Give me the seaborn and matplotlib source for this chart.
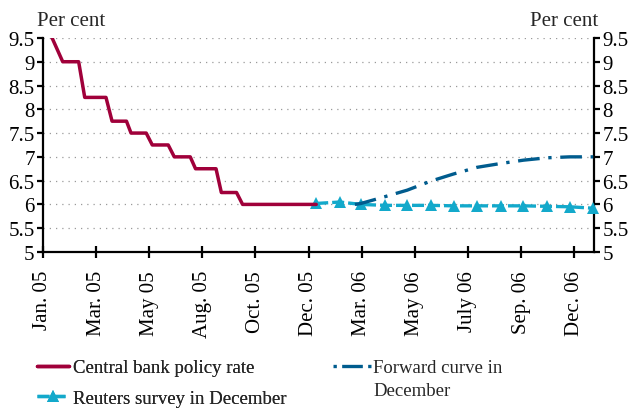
import matplotlib
matplotlib.use("Agg")
import matplotlib.pyplot as plt
from matplotlib.legend_handler import HandlerLine2D
import pandas as pd
import seaborn as sns

# ---- data ----
policy_dates = ["2005-01-17", "2005-01-31", "2005-02-21", "2005-03-01", "2005-03-29",
                "2005-04-06", "2005-04-25", "2005-05-01", "2005-05-21", "2005-05-29",
                "2005-06-19", "2005-06-27", "2005-07-18", "2005-07-25", "2005-08-21",
                "2005-08-28", "2005-09-17", "2005-09-25", "2005-12-31"]
policy_rate = [9.5, 9.0, 9.0, 8.25, 8.25, 7.75, 7.75, 7.5, 7.5, 7.25,
               7.25, 7.0, 7.0, 6.75, 6.75, 6.25, 6.25, 6.0, 6.0]

survey_dates = ["2005-12-31", "2006-01-31", "2006-02-28", "2006-03-31", "2006-04-30",
                "2006-05-31", "2006-06-30", "2006-07-31", "2006-08-31", "2006-09-30",
                "2006-10-31", "2006-11-30", "2006-12-31"]
survey_rate = [6.02, 6.05, 6.00, 5.98, 5.98, 5.98, 5.97, 5.97, 5.97, 5.97, 5.96, 5.95, 5.92]

forward_dates = ["2006-02-20", "2006-02-28", "2006-03-31", "2006-04-30", "2006-05-31",
                 "2006-06-30", "2006-07-31", "2006-08-31", "2006-09-30", "2006-10-31",
                 "2006-11-30", "2006-12-31"]
forward_rate = [6.00, 6.02, 6.16, 6.30, 6.49, 6.64, 6.78, 6.86, 6.93, 6.98, 7.00, 7.00]

x_tick_dates = ["2005-01-05", "2005-03-16", "2005-05-25", "2005-08-03", "2005-10-12",
                "2005-12-21", "2006-03-01", "2006-05-10", "2006-07-19", "2006-09-27",
                "2006-12-06"]
x_tick_labels = ["Jan. 05", "Mar. 05", "May 05", "Aug. 05", "Oct. 05", "Dec. 05",
                 "Mar. 06", "May 06", "July 06", "Sep. 06", "Dec. 06"]
y_ticks = [5, 5.5, 6, 6.5, 7, 7.5, 8, 8.5, 9, 9.5]
y_tick_labels = ["5", "5.5", "6", "6.5", "7", "7.5", "8", "8.5", "9", "9.5"]

series_labels = ["Central bank policy rate", "Reuters survey in December",
                 "Forward curve in\nDecember"]

# ---- style ----
sns.set_style("ticks")
plt.rcParams["font.family"] = ["Liberation Serif", "DejaVu Serif"]

RED = "#A0003A"
CYAN = "#13A9CB"
BLUE = "#005C8E"

fig = plt.figure(figsize=(6.35, 4.10), dpi=100)
ax = fig.add_axes([0.0677, 0.383, 0.8677, 0.522])

df_policy = pd.DataFrame({"date": pd.to_datetime(policy_dates), "rate": policy_rate})
df_survey = pd.DataFrame({"date": pd.to_datetime(survey_dates), "rate": survey_rate})
df_forward = pd.DataFrame({"date": pd.to_datetime(forward_dates), "rate": forward_rate})

sns.lineplot(data=df_policy, x="date", y="rate", ax=ax, color=RED, linewidth=2.5,
             label=series_labels[0], legend=False, zorder=4)
sns.lineplot(data=df_survey, x="date", y="rate", ax=ax, color=CYAN, linewidth=2.4,
             linestyle=(0, (3.6, 1.2)), marker="^", markersize=8.5, markeredgewidth=0,
             label=series_labels[1], legend=False, zorder=3, clip_on=False)
sns.lineplot(data=df_forward, x="date", y="rate", ax=ax, color=BLUE, linewidth=2.4,
             linestyle=(0, (6.5, 2.6, 1, 2.6)),
             label=series_labels[2], legend=False, zorder=5)

ax.set_xlim(pd.Timestamp("2005-01-05"), pd.Timestamp("2007-01-01"))
ax.set_ylim(5, 9.5)
ax.set_xticks(pd.to_datetime(x_tick_dates))
ax.set_xticklabels(x_tick_labels, rotation=90, fontsize=15)
ax.set_yticks(y_ticks)
ax.set_yticklabels(y_tick_labels, fontsize=15)
ax.set_xlabel("")
ax.set_ylabel("")

for yv in y_ticks[1:]:
    ax.axhline(yv, color="#9a9a9a", linewidth=0.9, linestyle=(0, (1, 4)), zorder=1)

for s in ["left", "right", "bottom"]:
    ax.spines[s].set_visible(True)
    ax.spines[s].set_linewidth(1.6)
    ax.spines[s].set_color("black")
ax.spines["top"].set_visible(False)

ax.tick_params(axis="y", which="both", left=True, right=True, labelleft=True,
               labelright=True, length=4, width=1.6, pad=2, colors="black")
ax.tick_params(axis="x", direction="inout", length=8, width=1.6, pad=9, colors="black")

fig.text(37 / 635, 1 - 26 / 410, "Per cent", fontsize=15, va="baseline", ha="left")
fig.text(598 / 635, 1 - 26 / 410, "Per cent", fontsize=15, va="baseline", ha="right")


class TopLineHandler(HandlerLine2D):
    """Place the legend sample at the level of the first text line."""
    def __init__(self, shift, style=None, **kw):
        super().__init__(**kw)
        self.shift = shift
        self.style = style

    def create_artists(self, legend, orig_handle, xdescent, ydescent, width, height,
                       fontsize, trans):
        artists = super().create_artists(legend, orig_handle, xdescent, ydescent,
                                         width, height, fontsize, trans)
        for a in artists:
            a.set_ydata([y + self.shift for y in a.get_ydata()])
            if self.style is not None and a.get_linestyle() not in ("None", ""):
                a.set_linestyle(self.style)
        return artists


handles, labels = ax.get_legend_handles_labels()
leg1 = fig.legend(handles[:2], labels[:2], loc="upper left",
                  bbox_to_anchor=(37 / 635, 1 - 360 / 410),
                  ncol=1, frameon=False, fontsize=13.5, handlelength=1.7, handletextpad=0.2,
                  labelspacing=0.72, borderpad=0, borderaxespad=0)
leg2 = fig.legend(handles[2:], labels[2:], loc="upper left",
                  bbox_to_anchor=(333 / 635, 1 - 360 / 410),
                  ncol=1, frameon=False, fontsize=13.5, handlelength=2.0, handletextpad=0.15,
                  borderpad=0, borderaxespad=0,
                  handler_map={handles[2]: TopLineHandler(shift=9.0,
                                                          style=(0, (1, 1.6, 6.2, 1.6, 1, 5)))})
for t in leg2.get_texts():
    t.set_linespacing(1.45)
fig.add_artist(leg1)

fig.savefig("out.png", dpi=100)
